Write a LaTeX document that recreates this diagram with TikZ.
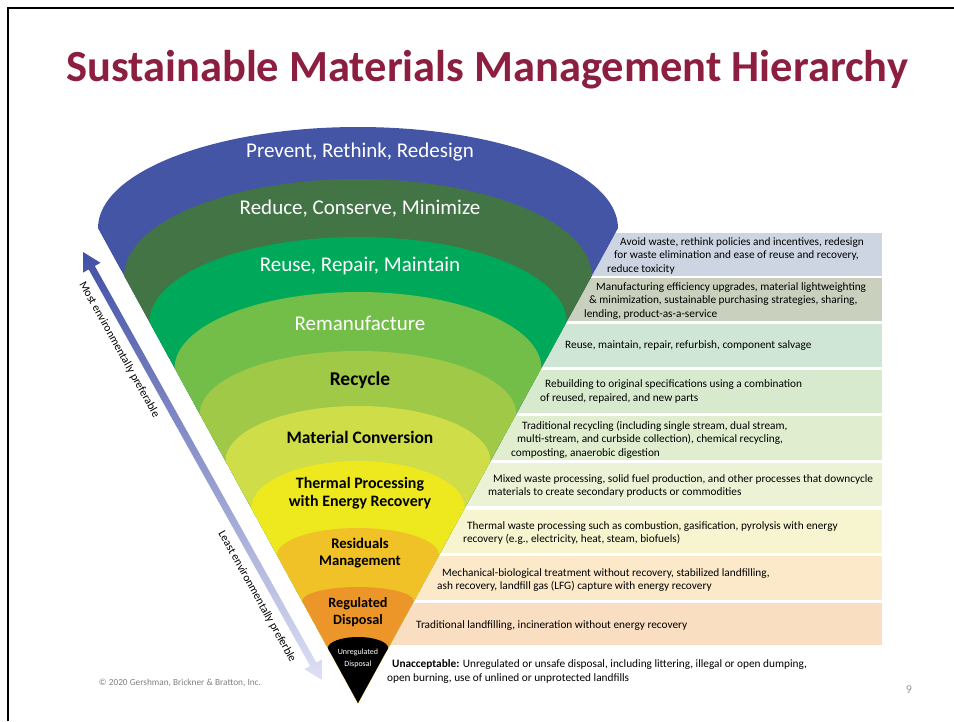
\documentclass[tikz,border=0pt]{standalone}
\usepackage{fontspec}
\setmainfont{Carlito}
\definecolor{ctitle}{RGB}{140,30,64}
\definecolor{cpr}{RGB}{68,85,166}
\definecolor{crd}{RGB}{66,116,70}
\definecolor{cru}{RGB}{0,168,89}
\definecolor{crm}{RGB}{114,190,72}
\definecolor{crc}{RGB}{160,201,72}
\definecolor{cmc}{RGB}{207,221,72}
\definecolor{ctp}{RGB}{238,233,30}
\definecolor{crs}{RGB}{240,194,40}
\definecolor{crg}{RGB}{236,150,42}
\definecolor{bpr}{RGB}{205,213,226}
\definecolor{brd}{RGB}{201,209,190}
\definecolor{bru}{RGB}{207,229,213}
\definecolor{brm}{RGB}{215,234,205}
\definecolor{brc}{RGB}{224,237,206}
\definecolor{bmc}{RGB}{236,242,213}
\definecolor{btp}{RGB}{246,245,207}
\definecolor{brs}{RGB}{251,233,201}
\definecolor{brg}{RGB}{249,222,194}
\definecolor{atop}{RGB}{66,80,166}
\definecolor{abot}{RGB}{222,224,244}
\tikzset{
  lwhite/.style={white, font=\fontsize{21}{24}\selectfont},
  lbold/.style={black, align=center, font=\fontsize{17.5}{20}\selectfont\bfseries},
  desc/.style={anchor=west, align=left, inner sep=0pt, font=\fontsize{11.3}{13.5}\selectfont},
  side/.style={sloped, anchor=north, inner sep=11pt, font=\fontsize{11.5}{13}\selectfont}
}

\begin{document}
\begin{tikzpicture}[x=1pt, y=-1pt]
    \useasboundingbox (0,0) rectangle (954,721);
    \draw[line width=2.5pt] (8,721) -- (8,8) -- (954,8);
    \node (title) [ctitle, anchor=base, font=\fontsize{44.5}{52}\selectfont\bfseries] at (487,81)
        {Sustainable Materials Management Hierarchy};
    \fill[bpr] (358,233) rectangle (882,276);
    \fill[brd] (358,278) rectangle (882,321);
    \fill[bru] (358,324) rectangle (882,367);
    \fill[brm] (358,370) rectangle (882,413);
    \fill[brc] (358,416) rectangle (882,460);
    \fill[bmc] (358,463) rectangle (882,506);
    \fill[btp] (358,510) rectangle (882,553);
    \fill[brs] (358,556) rectangle (882,600);
    \fill[brg] (358,603) rectangle (882,645);
    \begin{scope}
        \clip (39,120) -- (677,120) -- (358,703) -- cycle;
        \foreach \c/\y/\a/\b in {cpr/228/260/101, crd/276/233.7/97, cru/322/208.6/85,
            crm/368/183.4/76, crc/414/158.2/63, cmc/461/132.5/55, ctp/508/106.7/47,
            crs/555/81/27, crg/601/55.8/14, black/648/30.1/11}{
            \fill[\c] (358,\y) ellipse[x radius=\a, y radius=\b];
            \fill[\c] (0,\y) rectangle (954,721);
        }
    \end{scope}
    \node (l1) [lwhite] at (360,152) {Prevent, Rethink, Redesign};
    \node (l2) [lwhite] at (360,209) {Reduce, Conserve, Minimize};
    \node (l3) [lwhite] at (360,266) {Reuse, Repair, Maintain};
    \node (l4) [lwhite] at (360,323) {Remanufacture};
    \node (l5) [lbold, font=\fontsize{19.5}{22}\selectfont\bfseries] at (360,380) {Recycle};
    \node (l6) [lbold] at (360,437) {Material Conversion};
    \node (l7) [lbold, font=\fontsize{15.9}{18}\selectfont\bfseries] at (360,493) {Thermal Processing\\with Energy Recovery};
    \node (l8) [lbold, font=\fontsize{14.7}{17}\selectfont\bfseries] at (360,553) {Residuals\\Management};
    \node (l9) [lbold, font=\fontsize{14.2}{17}\selectfont\bfseries] at (358,612) {Regulated\\Disposal};
    \node (l10) [white, align=center, font=\fontsize{8}{12}\selectfont] at (358,658) {Unregulated\\Disposal};
    \node (d1) [desc] at (607,255.5) {\hspace*{13pt}Avoid waste, rethink policies and incentives, redesign\\
        \hspace*{7pt}for waste elimination and ease of reuse and recovery,\\reduce toxicity};
    \node (d2) [desc] at (584,301) {\hspace*{12pt}Manufacturing efficiency upgrades, material lightweighting\\
        \hspace*{5pt}\& minimization, sustainable purchasing strategies, sharing,\\lending, product-as-a-service};
    \node (d3) [desc] at (565,346) {Reuse, maintain, repair, refurbish, component salvage};
    \node (d4) [desc] at (540,391.5) {\hspace*{5pt}Rebuilding to original specifications using a combination\\
        of reused, repaired, and new parts};
    \node (d5) [desc] at (511,439.5) {\hspace*{11pt}Traditional recycling (including single stream, dual stream,\\
        \hspace*{6pt}multi-stream, and curbside collection), chemical recycling,\\composting, anaerobic digestion};
    \node (d6) [desc] at (488,486) {\hspace*{5pt}Mixed waste processing, solid fuel production, and other processes that downcycle\\
        materials to create secondary products or commodities};
    \node (d7) [desc] at (463,533) {\hspace*{4pt}Thermal waste processing such as combustion, gasification, pyrolysis with energy\\
        recovery (e.g., electricity, heat, steam, biofuels)};
    \node (d8) [desc] at (437,580) {\hspace*{5pt}Mechanical-biological treatment without recovery, stabilized landfilling,\\
        ash recovery, landfill gas (LFG) capture with energy recovery};
    \node (d9) [desc] at (416,626) {Traditional landfilling, incineration without energy recovery};
    \node (d10) [desc] at (387,671.5) {\hspace*{5pt}\textbf{Unacceptable:} Unregulated or unsafe disposal, including littering, illegal or open dumping,\\
        open burning, use of unlined or unprotected landfills};
    \coordinate (up) at (83,252);
    \coordinate (dn) at (322,680);
    \shade[top color=atop, bottom color=abot] (up) -- (100.5,262.8) -- (94.8,266.0) -- (316.3,662.6)
        -- (322.0,659.4) -- (dn) -- (304.5,669.2) -- (310.2,666.0) -- (88.7,269.4) -- (83.1,272.6) -- cycle;
    \path (up) -- (dn) node (most) [side, pos=.21] {Most environmentally preferable}
        node (least) [side, pos=.787] {Least environmentally preferble};
    \node (copy) [gray, font=\fontsize{9.3}{11}\selectfont] at (180,683) {© 2020 Gershman, Brickner \& Bratton, Inc.};
    \node (page) [gray!80, font=\fontsize{12}{14}\selectfont] at (909,690) {9};
\end{tikzpicture}
\end{document}
